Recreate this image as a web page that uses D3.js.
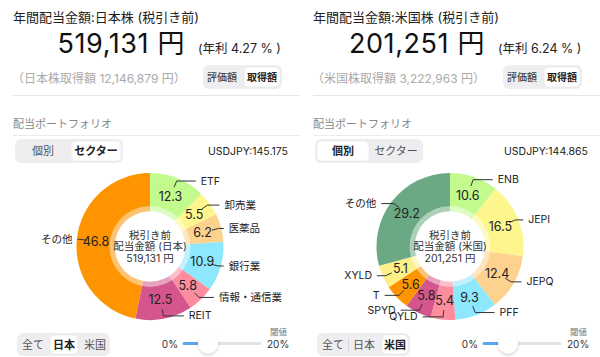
<!DOCTYPE html>
<html><head><meta charset="utf-8">
<script src="https://cdn.jsdelivr.net/npm/d3@7/dist/d3.min.js"></script>
<style>
html,body{margin:0;padding:0;background:#fff;}
svg{display:block;font-family:Inter,"Noto Sans CJK JP",sans-serif;}
</style></head><body>
<svg id="c" width="600" height="357"></svg>
<script>
// ---- data ----
const panelTitles = ["年間配当金額:日本株 (税引き前)", "年間配当金額:米国株 (税引き前)"];
const totalAmounts = ["519,131 円", "201,251 円"];
const yieldTexts = ["(年利 4.27 % )", "(年利 6.24 % )"];
const costTexts = ["（日本株取得額 12,146,879 円）", "（米国株取得額 3,222,963 円）"];
const fxTexts = ["USDJPY:145.175", "USDJPY:144.865"];
const centerTexts = [["税引き前", "配当金額 (日本)", "519,131 円"], ["税引き前", "配当金額 (米国)", "201,251 円"]];
const viewSelected = ["セクター", "個別"];
const regionSelected = ["日本", "米国"];

const jpCategories = ["ETF", "卸売業", "医薬品", "銀行業", "情報・通信業", "REIT", "その他"];
const jpValues = [12.3, 5.5, 6.2, 10.9, 5.8, 12.5, 46.8];
const jpColors = ["#c2fa8e", "#fdf68c", "#fdd28e", "#8ee8fd", "#fb8d9e", "#d4568c", "#fe9400"];

const usCategories = ["ENB", "JEPI", "JEPQ", "PFF", "QYLD", "SPYD", "T", "XYLD", "その他"];
const usValues = [10.6, 16.5, 12.4, 9.3, 5.4, 5.8, 5.6, 5.1, 29.2];
const usColors = ["#c2fa8e", "#fdf68c", "#fdd28e", "#8ee8fd", "#fb8d9e", "#d4568c", "#fe9400", "#fdf08a", "#6aa984"];

const svg = d3.select("#c");

function segmented(g, x, y, w, h, items, itemX, selected, sepX) {
  g.append("rect").attr("x", x).attr("y", y).attr("width", w).attr("height", h)
    .attr("rx", 6).attr("fill", "#eeeef0");
  items.forEach((t, i) => {
    if (t === selected) {
      g.append("rect").attr("x", itemX[i][0]).attr("y", y + 2).attr("width", itemX[i][1] - itemX[i][0])
        .attr("height", h - 4).attr("rx", 5).attr("fill", "#fff")
        .attr("stroke", "#e2e2e4").attr("stroke-width", 0.5);
    }
  });
  if (sepX != null) {
    g.append("line").attr("x1", sepX).attr("x2", sepX).attr("y1", y + 5).attr("y2", y + h - 5)
      .attr("stroke", "#d6d6d8").attr("stroke-width", 1);
  }
  items.forEach((t, i) => {
    g.append("text").attr("x", (itemX[i][0] + itemX[i][1]) / 2).attr("y", y + h / 2)
      .attr("text-anchor", "middle").attr("dominant-baseline", "central")
      .attr("font-size", 11).attr("font-weight", t === selected ? 700 : 400)
      .attr("fill", t === selected ? "#222" : "#555").text(t);
  });
}

function panel(idx, cats, vals, cols) {
  const ox = idx * 300;
  const g = svg.append("g").attr("transform", `translate(${ox},0)`);

  g.append("text").attr("x", 13).attr("y", 17).attr("dominant-baseline", "central")
    .attr("font-size", 13).attr("fill", "#222").text(panelTitles[idx]);
  g.append("text").attr("x", 185).attr("y", 53).attr("text-anchor", "end")
    .attr("font-size", 27).attr("letter-spacing", 0.6).attr("fill", "#111").text(totalAmounts[idx]);
  g.append("text").attr("x", 198).attr("y", 53).attr("font-size", 12.5).attr("fill", "#222").text(yieldTexts[idx]);
  g.append("text").attr("x", 12).attr("y", 78).attr("dominant-baseline", "central")
    .attr("font-size", 12).attr("fill", "#aaa").text(costTexts[idx]);

  // 評価額 / 取得額
  const sg = g.append("g");
  sg.append("rect").attr("x", 203).attr("y", 65).attr("width", 79).attr("height", 24).attr("rx", 6).attr("fill", "#eeeef0");
  sg.append("rect").attr("x", 244).attr("y", 67).attr("width", 36).attr("height", 20).attr("rx", 5).attr("fill", "#fff")
    .attr("stroke", "#e2e2e4").attr("stroke-width", 0.5);
  sg.append("text").attr("x", 222).attr("y", 77).attr("text-anchor", "middle").attr("dominant-baseline", "central")
    .attr("font-size", 10).attr("fill", "#444").attr("font-weight", 500).text("評価額");
  sg.append("text").attr("x", 262).attr("y", 77).attr("text-anchor", "middle").attr("dominant-baseline", "central")
    .attr("font-size", 10).attr("fill", "#222").attr("font-weight", 700).text("取得額");

  g.append("line").attr("x1", 13).attr("x2", 300).attr("y1", 95.5).attr("y2", 95.5).attr("stroke", "#e6e6e6");

  g.append("text").attr("x", 13).attr("y", 124).attr("dominant-baseline", "central")
    .attr("font-size", 11).attr("fill", "#888").text("配当ポートフォリオ");
  g.append("line").attr("x1", 13).attr("x2", 300).attr("y1", 135.5).attr("y2", 135.5).attr("stroke", "#ececec");

  segmented(g.append("g"), 15, 139, 108, 24, ["個別", "セクター"], [[17, 69], [71, 121]], viewSelected[idx], null);
  g.append("text").attr("x", 288).attr("y", 151).attr("text-anchor", "end").attr("dominant-baseline", "central")
    .attr("font-size", 10.5).attr("fill", "#222").text(fxTexts[idx]);

  // donut
  const cx = 150, cy = 246.5, R = 73.5, hole = R * 0.48, trans = R * 0.55;
  const labelR = R - (R - hole) / 2;
  const r0 = (R - hole) * 0.75 + hole, r1 = labelR * 1.3, L2 = labelR * 0.38;
  const pie = d3.pie().sort(null).value(d => d.v).startAngle(0).endAngle(2 * Math.PI);
  const data = pie(cats.map((c, i) => ({c, v: vals[i], col: cols[i]})));
  const arc = d3.arc().innerRadius(0).outerRadius(R);
  const dg = g.append("g").attr("transform", `translate(${cx},${cy})`);
  dg.selectAll("path.s").data(data).join("path").attr("class", "s")
    .attr("d", arc).attr("fill", d => d.data.col);
  dg.append("circle").attr("r", trans).attr("fill", "#fff").attr("fill-opacity", 0.45);
  dg.append("circle").attr("r", hole).attr("fill", "#fff");

  const pt = (a, r) => [r * Math.sin(a), -r * Math.cos(a)];
  data.forEach(d => {
    const a = (d.startAngle + d.endAngle) / 2;
    const left = Math.sin(a) < 0;
    const p0 = pt(a, r0), p1 = pt(a, r1);
    const len = L2 * Math.abs(Math.cos(a));
    const p2 = [p1[0] + (left ? -len : len), p1[1]];
    dg.append("path").attr("d", d3.line()([p0, p1, p2])).attr("fill", "none")
      .attr("stroke", "#333").attr("stroke-width", 1);
    const vp = pt(a, labelR);
    dg.append("text").attr("x", vp[0]).attr("y", vp[1]).attr("text-anchor", "middle")
      .attr("dominant-baseline", "central").attr("font-size", 12.5).attr("fill", "#222")
      .text(d3.format(".1f")(d.data.v));
    dg.append("text").attr("x", p2[0] + (left ? -5 : 5)).attr("y", p2[1])
      .attr("text-anchor", left ? "end" : "start").attr("dominant-baseline", "central")
      .attr("font-size", 10.5).attr("fill", "#222").text(d.data.c);
  });
  centerTexts[idx].forEach((t, i) => {
    dg.append("text").attr("x", 0).attr("y", -11.5 + i * 11.5).attr("text-anchor", "middle")
      .attr("dominant-baseline", "central").attr("font-size", 10.5).attr("fill", "#333").text(t);
  });

  // bottom region selector
  segmented(g.append("g"), 17, 333, 93, 23, ["全て", "日本", "米国"], [[19, 47], [50, 78], [82, 108]],
    regionSelected[idx], idx === 1 ? 48.5 : null);

  // slider
  g.append("text").attr("x", 287).attr("y", 332).attr("text-anchor", "end").attr("dominant-baseline", "central")
    .attr("font-size", 8.5).attr("fill", "#777").text("閾値");
  g.append("text").attr("x", 178).attr("y", 343.5).attr("text-anchor", "end").attr("dominant-baseline", "central")
    .attr("font-size", 10).attr("fill", "#333").text("0%");
  g.append("text").attr("x", 267).attr("y", 343.5).attr("dominant-baseline", "central")
    .attr("font-size", 10).attr("fill", "#333").text("20%");
  g.append("line").attr("x1", 200).attr("x2", 260).attr("y1", 343.5).attr("y2", 343.5)
    .attr("stroke", "#e3e3e5").attr("stroke-width", 3).attr("stroke-linecap", "round");
  g.append("line").attr("x1", 184).attr("x2", 205).attr("y1", 343.5).attr("y2", 343.5)
    .attr("stroke", "#5aa8f2").attr("stroke-width", 3).attr("stroke-linecap", "round");
  const defs = svg.select("defs").empty() ? svg.append("defs") : svg.select("defs");
  if (idx === 0) {
    const f = defs.append("filter").attr("id", "sh").attr("x", "-50%").attr("y", "-50%").attr("width", "200%").attr("height", "200%");
    f.append("feDropShadow").attr("dx", 0).attr("dy", 1.5).attr("stdDeviation", 1.5).attr("flood-color", "#000").attr("flood-opacity", 0.2);
  }
  g.append("circle").attr("cx", 208).attr("cy", 343.5).attr("r", 10).attr("fill", "#fff").attr("filter", "url(#sh)");
}

panel(0, jpCategories, jpValues, jpColors);
panel(1, usCategories, usValues, usColors);
</script>
</body></html>
